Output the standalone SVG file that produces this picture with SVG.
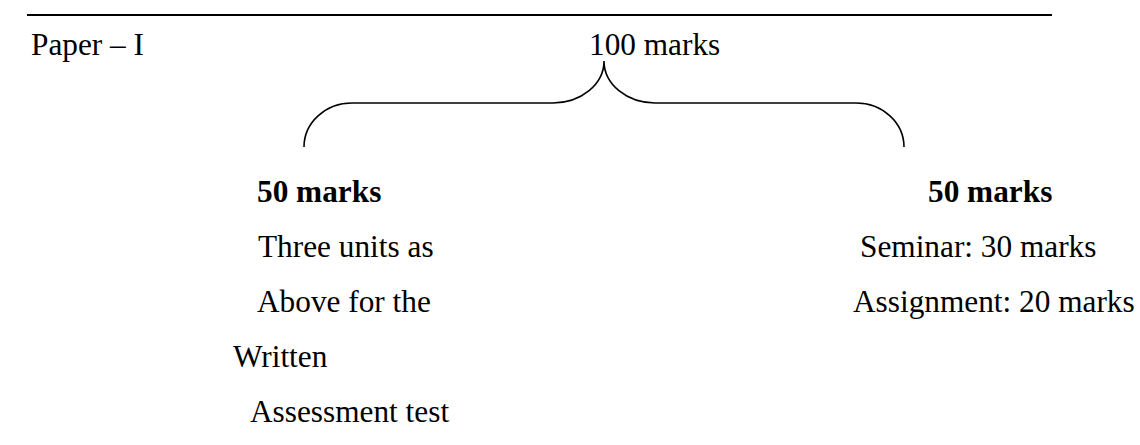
<svg xmlns="http://www.w3.org/2000/svg" width="1140" height="445" viewBox="0 0 1140 445">
<style>
text { font-family: "Liberation Serif", "Times New Roman", serif; font-size: 31.3px; fill: #000; }
.b { font-weight: bold; }
.ln { fill: none; stroke: #000; }
</style>
<rect width="1140" height="445" fill="#fff"/>
<g id="rule"><line class="ln" x1="27" y1="15" x2="1052" y2="15" stroke-width="2"/></g>
<g id="paper"><text x="31" y="55">Paper – I</text></g>
<g id="total"><text x="589" y="55">100 marks</text></g>
<g id="connectors">
<path class="ln" stroke-width="1.6" d="M304,147 A48,44 0 0 1 352,103 L553,103 A51,42 0 0 0 604,61 A51,42 0 0 0 655,103 L856,103 A48,44 0 0 1 904,147"/>
</g>
<g id="left">
<text class="b" x="257" y="202">50 marks</text>
<text x="258" y="257">Three units as</text>
<text x="257" y="312">Above for the</text>
<text x="233" y="367">Written</text>
<text x="250" y="422">Assessment test</text>
</g>
<g id="right">
<text class="b" x="928" y="202">50 marks</text>
<text x="860" y="257">Seminar: 30 marks</text>
<text x="853" y="312">Assignment: 20 marks</text>
</g>
</svg>
